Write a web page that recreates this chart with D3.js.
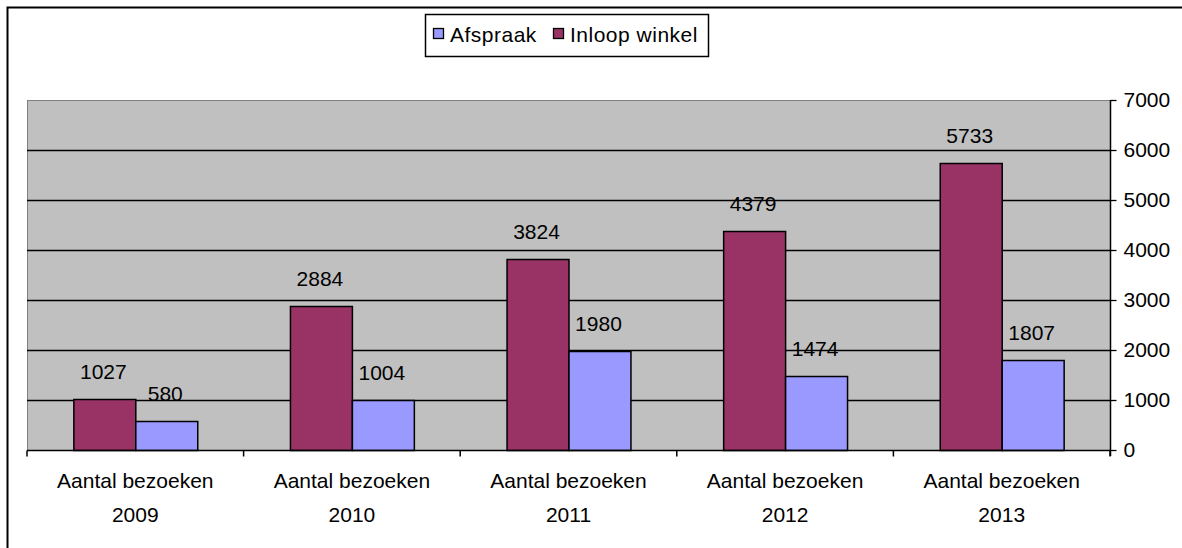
<!DOCTYPE html>
<html>
<head>
<meta charset="utf-8">
<script src="https://cdn.jsdelivr.net/npm/d3@7"></script>
<style>
  html, body { margin: 0; padding: 0; background: #fff; }
  svg { display: block; font-family: "Liberation Sans", Arial, sans-serif; }
</style>
</head>
<body>
<svg id="chart" width="1182" height="548"></svg>
<script>
const categories = ["Aantal bezoeken\n2009", "Aantal bezoeken\n2010", "Aantal bezoeken\n2011", "Aantal bezoeken\n2012", "Aantal bezoeken\n2013"];
const seriesNames = ["Inloop winkel", "Afspraak"];
const inloopValues = [1027, 2884, 3824, 4379, 5733];
const afspraakValues = [580, 1004, 1980, 1474, 1807];
const yTicks = [0, 1000, 2000, 3000, 4000, 5000, 6000, 7000];
const legendOrder = ["Afspraak", "Inloop winkel"];
const colors = { "Inloop winkel": "#993366", "Afspraak": "#9999FF" };

(function () {
const svg = d3.select("#chart");
const pLeft = 27, pRight = 1110, pTop = 100, pBottom = 450;
const FS = 21;

// outer frame (clipped by window at right/bottom)
svg.append("rect").attr("x", 7.5).attr("y", 7.5).attr("width", 1200).attr("height", 600)
  .attr("fill", "none").attr("stroke", "#000").attr("stroke-width", 2);

const x0 = d3.scaleBand().domain(categories).range([pLeft, pRight]).padding(0);
const gap = x0.bandwidth() * 0.214;
const x1 = d3.scaleBand().domain(seriesNames).range([gap, x0.bandwidth() - gap]).padding(0);
const y = d3.scaleLinear().domain([0, 7000]).range([pBottom, pTop]);

// plot area
svg.append("rect").attr("x", pLeft + 0.5).attr("y", pTop + 0.5)
  .attr("width", pRight - pLeft).attr("height", pBottom - pTop)
  .attr("fill", "#C0C0C0").attr("stroke", "#808080").attr("stroke-width", 1);

// gridlines
svg.append("g").selectAll("line").data(yTicks.filter(d => d > 0 && d < 7000)).join("line")
  .attr("x1", pLeft).attr("x2", pRight)
  .attr("y1", d => Math.round(y(d)) + 0.5).attr("y2", d => Math.round(y(d)) + 0.5)
  .attr("stroke", "#000").attr("stroke-width", 1.3);

// bars
const rows = categories.map((c, i) => ({ cat: c, vals: [
  { s: "Inloop winkel", v: inloopValues[i] },
  { s: "Afspraak", v: afspraakValues[i] }
]}));

const groups = svg.append("g").selectAll("g").data(rows).join("g")
  .attr("transform", d => `translate(${x0(d.cat)},0)`);

groups.selectAll("rect").data(d => d.vals).join("rect")
  .attr("x", d => x1(d.s) + 0.5)
  .attr("y", d => Math.round(y(d.v)) + 0.5)
  .attr("width", x1.bandwidth())
  .attr("height", d => pBottom - Math.round(y(d.v)))
  .attr("fill", d => colors[d.s]).attr("stroke", "#000").attr("stroke-width", 1.5);

groups.selectAll("text").data(d => d.vals).join("text")
  .attr("x", d => x1(d.s) + x1.bandwidth() / 2 - 1)
  .attr("y", d => y(d.v) - 20)
  .attr("text-anchor", "middle").attr("font-size", FS).attr("fill", "#000")
  .text(d => d.v);

// y axis on right
const yAxis = d3.axisRight(y).tickValues(yTicks).tickSize(6).tickPadding(7).tickFormat(d3.format("d"));
const ya = svg.append("g").attr("transform", `translate(${pRight + 0.5},0)`).call(yAxis);
ya.select(".domain").attr("stroke", "#000").attr("stroke-width", 1.5).attr("d", `M0,${pTop}V${pBottom + 6}`);
ya.selectAll(".tick line").attr("stroke", "#000").attr("stroke-width", 1.3);
ya.selectAll(".tick text").attr("font-size", FS).attr("font-family", "Liberation Sans, Arial, sans-serif").attr("fill", "#000");

// x axis
const xa = svg.append("g").attr("transform", `translate(0,${pBottom + 0.5})`);
xa.append("line").attr("x1", pLeft).attr("x2", pRight).attr("stroke", "#000").attr("stroke-width", 1.5);
const tickPos = categories.map(c => x0(c)).concat([pRight]);
xa.selectAll("line.tk").data(tickPos).join("line").attr("class", "tk")
  .attr("x1", d => d).attr("x2", d => d).attr("y1", 0).attr("y2", 6)
  .attr("stroke", "#000").attr("stroke-width", 1.5);
const labs = xa.selectAll("text").data(categories).join("text")
  .attr("text-anchor", "middle").attr("font-size", FS).attr("fill", "#000")
  .attr("transform", d => `translate(${x0(d) + x0.bandwidth() / 2},0)`);
labs.selectAll("tspan").data(d => d.split("\n")).join("tspan")
  .attr("x", 0).attr("y", (d, i) => 37.5 + i * 34).text(d => d);

// legend
const lg = svg.append("g");
lg.append("rect").attr("x", 425.5).attr("y", 14.5).attr("width", 283).attr("height", 42)
  .attr("fill", "#fff").attr("stroke", "#000").attr("stroke-width", 1.5);
const legendX = [433, 553];
legendOrder.forEach((s, i) => {
  lg.append("rect").attr("x", legendX[i] + 0.5).attr("y", 28.5).attr("width", 10).attr("height", 10)
    .attr("fill", colors[s]).attr("stroke", "#000").attr("stroke-width", 1.3);
  lg.append("text").attr("x", legendX[i] + 17).attr("y", 42).attr("font-size", FS)
    .attr("letter-spacing", 0.5).attr("fill", "#000").text(s);
});
})();
</script>
</body>
</html>
